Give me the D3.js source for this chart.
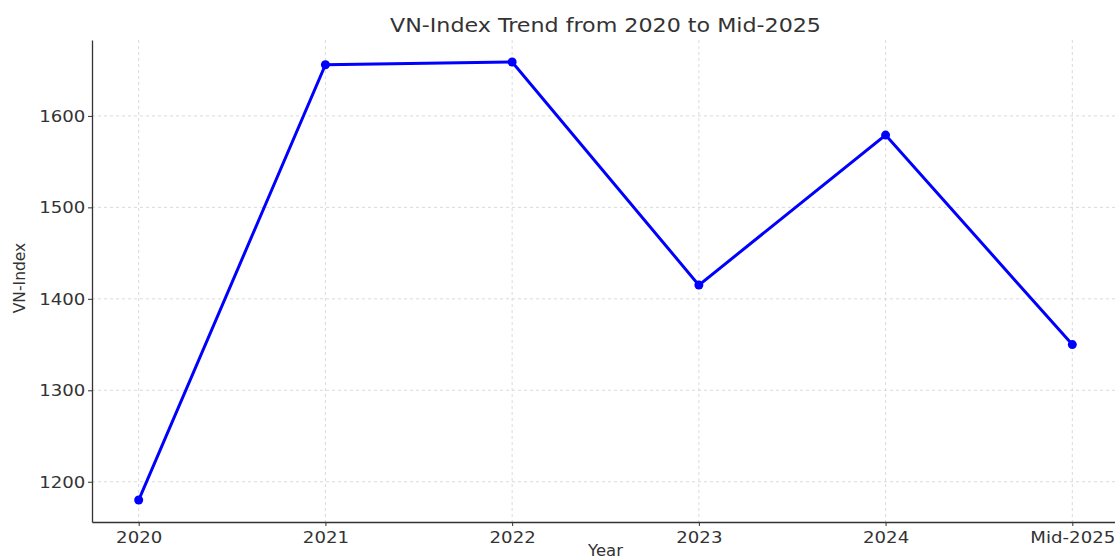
<!DOCTYPE html>
<meta charset="utf-8">
<style>
body { margin: 0; background: #fff; }
text { font-family: "DejaVu Sans", sans-serif; fill: #333; }
.grid line { stroke: #d0d0d0; stroke-width: 0.8px; stroke-dasharray: 3,3; }
.axis path, .axis line { stroke: #333; }
.line { fill: none; stroke: blue; stroke-width: 3px; }
</style>
<body>
<script src="https://cdn.jsdelivr.net/npm/d3@7"></script>
<script>

// data
var years = ["2020", "2021", "2022", "2023", "2024", "Mid-2025"];
var values = [1180, 1656, 1659, 1415, 1579, 1350];
var yTicks = [1200, 1300, 1400, 1500, 1600];

var data = years.map(function(d, i) { return {year: d, value: values[i]}; });

var margin = {top: 40, right: -4, bottom: 38, left: 92},
    width = 1115 - margin.left - margin.right,
    height = 560 - margin.top - margin.bottom;

var svg = d3.select("body").append("svg")
    .attr("width", 1115)
    .attr("height", 560);

var g = svg.append("g")
    .attr("transform", "translate(" + margin.left + "," + margin.top + ")");

// x is a point scale with matplotlib-like padding
var x = d3.scalePoint()
    .domain(years)
    .range([0, width])
    .padding(0.25);

var y = d3.scaleLinear()
    .domain([1156, 1683])
    .range([height, 0]);

// grid
g.append("g").attr("class", "grid")
  .selectAll("line").data(years).enter().append("line")
    .attr("x1", function(d) { return x(d); })
    .attr("x2", function(d) { return x(d); })
    .attr("y1", 0).attr("y2", height);

g.append("g").attr("class", "grid")
  .selectAll("line").data(yTicks).enter().append("line")
    .attr("x1", 0).attr("x2", width)
    .attr("y1", function(d) { return y(d); })
    .attr("y2", function(d) { return y(d); });

// axes
var xAxis = g.append("g")
    .attr("class", "axis")
    .attr("transform", "translate(0," + height + ")")
    .call(d3.axisBottom(x).tickSize(4).tickSizeOuter(0).tickPadding(5));
xAxis.selectAll("text")
    .style("font-size", "16.5px").style("fill", "#333")
    .attr("transform", "scale(1.1,1)");

var yAxis = g.append("g")
    .attr("class", "axis")
    .call(d3.axisLeft(y).tickValues(yTicks).tickFormat(d3.format("d"))
      .tickSize(4).tickSizeOuter(0).tickPadding(2));
yAxis.selectAll("text")
    .style("font-size", "16.5px").style("fill", "#333")
    .attr("transform", "scale(1.1,1)");
yAxis.select(".domain").attr("stroke-width", 1.3);
xAxis.select(".domain").attr("stroke-width", 1.3);

// line
var valueline = d3.line()
    .x(function(d) { return x(d.year); })
    .y(function(d) { return y(d.value); });

g.append("path")
    .datum(data)
    .attr("class", "line")
    .attr("d", valueline);

g.selectAll(".dot")
    .data(data)
  .enter().append("circle")
    .attr("class", "dot")
    .attr("cx", function(d) { return x(d.year); })
    .attr("cy", function(d) { return y(d.value); })
    .attr("r", 4.5)
    .attr("fill", "blue");

// title and labels
svg.append("text")
    .attr("transform", "translate(" + (margin.left + width / 2) + ",32) scale(1.11,1)")
    .attr("text-anchor", "middle")
    .style("font-size", "20px")
    .text("VN-Index Trend from 2020 to Mid-2025");

svg.append("text")
    .attr("transform", "translate(" + (margin.left + width / 2) + ",556) scale(1.1,1)")
    .attr("text-anchor", "middle")
    .style("font-size", "15px")
    .text("Year");

svg.append("text")
    .attr("transform", "translate(25,278) rotate(-90)")
    .attr("text-anchor", "middle")
    .style("font-size", "15.5px")
    .text("VN-Index");

</script>
</body>
